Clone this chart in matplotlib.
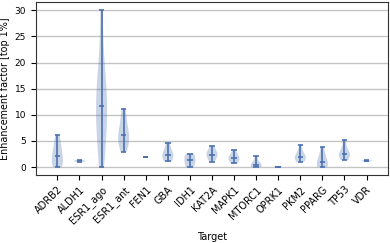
import matplotlib
matplotlib.use("Agg")
import matplotlib.pyplot as plt

targets = ['ADRB2', 'ALDH1', 'ESR1_ago', 'ESR1_ant', 'FEN1', 'GBA', 'IDH1', 'KAT2A',
           'MAPK1', 'MTORC1', 'OPRK1', 'PKM2', 'PPARG', 'TP53', 'VDR']

# enhancement factors per target
adrb2 = [0.0, 0.2, 0.6, 1.4, 2.2, 2.8, 3.6, 4.9, 6.2]
aldh1 = [1.0, 1.1, 1.2, 1.25, 1.4]
esr1_ago = [0.0, 4.5, 7.5, 9.5, 11.7, 13.5, 15.5, 19.0, 30.0]
esr1_ant = [2.9, 4.3, 4.9, 5.4, 6.1, 6.8, 8.0, 9.5, 11.2]
fen1 = [1.9]
gba = [1.1, 1.6, 2.0, 2.3, 2.8, 3.5, 4.7]
idh1 = [0.0, 0.4, 0.9, 1.3, 1.8, 2.2, 2.6]
kat2a = [1.0, 1.7, 2.1, 2.4, 2.8, 3.1, 4.0]
mapk1 = [0.7, 1.2, 1.5, 1.7, 2.0, 2.4, 3.3]
mtorc1 = [0.0, 0.1, 0.2, 0.4, 0.7, 1.1, 2.1]
oprk1 = [0.0]
pkm2 = [1.0, 1.5, 1.7, 1.9, 2.2, 2.9, 4.3]
pparg = [0.0, 0.1, 0.4, 1.0, 1.5, 2.4, 3.8]
tp53 = [1.35, 1.9, 2.2, 2.5, 2.8, 3.5, 5.2]
vdr = [1.1, 1.2, 1.3]

data = [adrb2, aldh1, esr1_ago, esr1_ant, fen1, gba, idh1, kat2a,
        mapk1, mtorc1, oprk1, pkm2, pparg, tp53, vdr]

blue = '#4c72b0'
plt.rcParams['font.size'] = 7

fig, ax = plt.subplots(figsize=(3.9, 2.43), dpi=100)
fig.subplots_adjust(left=0.092, right=0.995, top=0.99, bottom=0.28)

parts = ax.violinplot(data, showmedians=True)
for body in parts['bodies']:
    body.set_facecolor(blue)
    body.set_edgecolor('none')
    body.set_alpha(0.3)
for key in ['cmaxes', 'cmins', 'cbars', 'cmedians']:
    parts[key].set_color(blue)
    parts[key].set_linewidth(1.2)

ax.set_xticks(range(1, len(targets) + 1))
ax.set_xticklabels(targets, rotation=45, ha='right', rotation_mode='anchor')
ax.set_yticks([0, 5, 10, 15, 20, 25, 30])
ax.tick_params(axis='y', labelsize=6.5)
ax.grid(axis='y', color='#c4c4c4', linewidth=1.0)
ax.set_axisbelow(True)
for sp in ax.spines.values():
    sp.set_color('#333333')
ax.set_xlabel('Target')
ax.set_ylabel('Enhancement factor [top 1%]', fontsize=6.9, labelpad=3)

fig.savefig('out.png', dpi=100)
